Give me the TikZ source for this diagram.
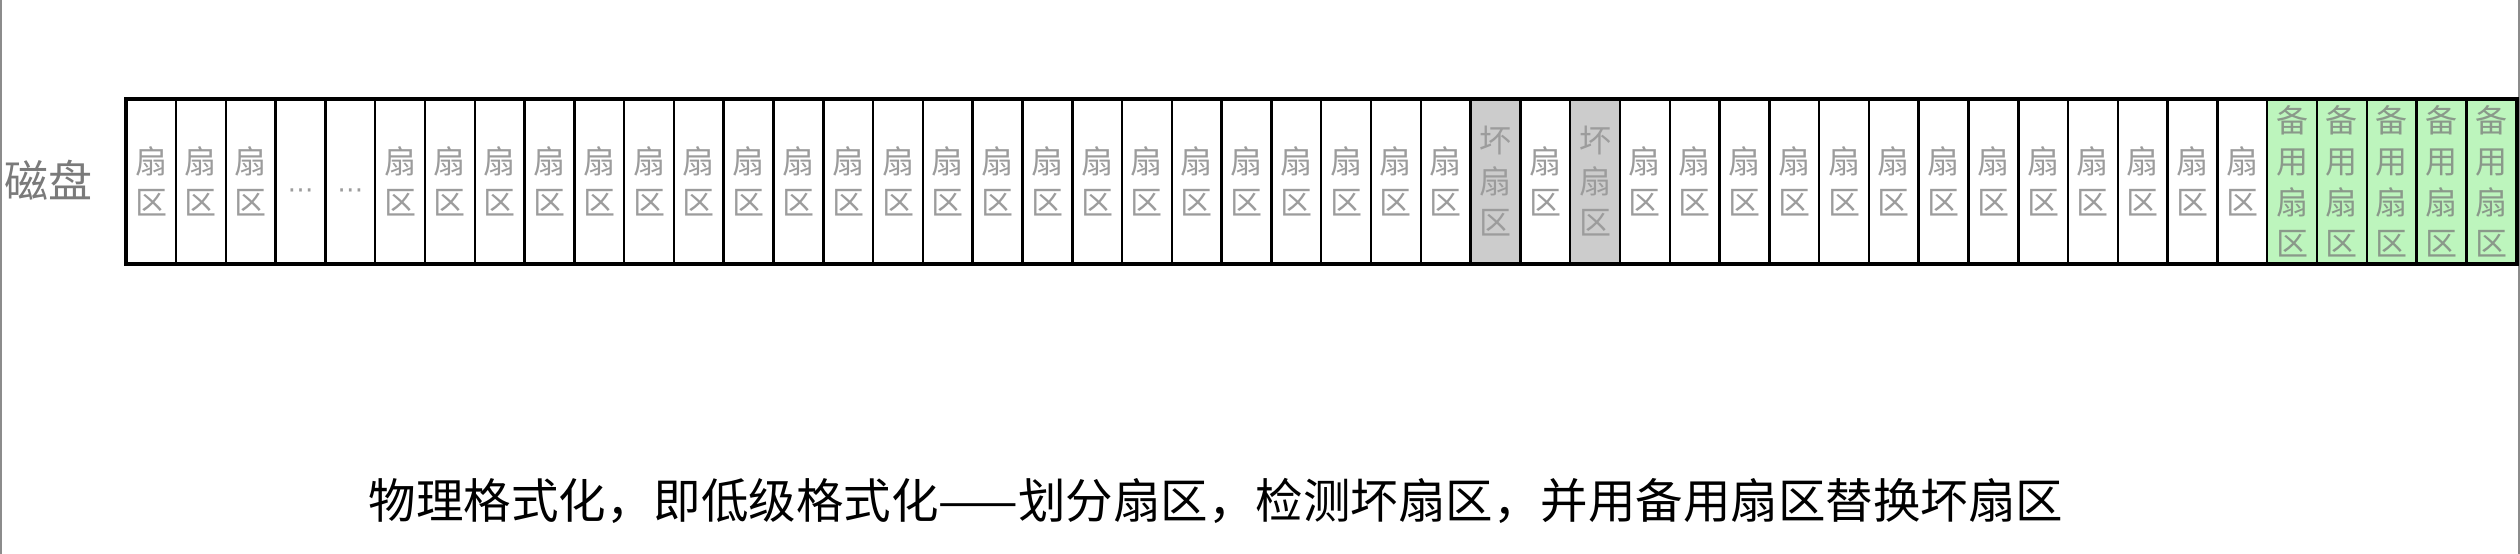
\documentclass[tikz,border=0pt]{standalone}
\usepackage{fontspec}
\newfontfamily\cjk{Noto Sans CJK SC}
\newfontfamily\djv{DejaVu Sans}
\definecolor{badfill}{HTML}{CCCCCC}
\definecolor{sparefill}{HTML}{BDF5BD}
\definecolor{celltext}{HTML}{9C9C9C}
\definecolor{sparetext}{HTML}{8A998A}
\definecolor{disktext}{HTML}{7A7A7A}
\definecolor{edgegray}{HTML}{8C8C8C}
\begin{document}
\begin{tikzpicture}[x=1pt,y=-1pt,
  cell/.style={draw=black, line width=2.5pt, minimum width=49.79pt, minimum height=164pt,
    inner sep=0pt, anchor=north west, align=center, text=celltext,
    font=\cjk\fontsize{32}{41}\selectfont},
  badcell/.style={cell, fill=badfill},
  sparecell/.style={cell, fill=sparefill, text=sparetext},
  dotcell/.style={cell, font=\djv\fontsize{26}{26}\selectfont, text=celltext},
  edge/.style={draw=edgegray, line width=2.5pt}]
\useasboundingbox (0,0) rectangle (2520,554);
\draw[edge] (1.2,0) -- (1.2,554);
\draw[edge] (2518.8,0) -- (2518.8,554);
\foreach \i in {0,1,2,5,6,...,26,28,30,31,...,42}
  \node[cell] (c\i) at ({125+\i*49.79},98) {扇\\区};
\foreach \i in {3,4}
  \node[dotcell] (c\i) at ({125+\i*49.79},98) {\raisebox{-17pt}[0pt][0pt]{⋯}};
\foreach \i in {27,29}
  \node[badcell] (c\i) at ({125+\i*49.79},98) {坏\\扇\\区};
\foreach \i in {43,...,47}
  \node[sparecell] (c\i) at ({125+\i*49.79},98) {备\\用\\扇\\区};
\draw[line width=3pt] (c0.north west) rectangle (c47.south east);
\draw[line width=4pt] (c47.north east) -- (c47.south east);
\node (disk) at (49,180) [font=\cjk\fontsize{44}{44}\selectfont, text=disktext, inner sep=0pt] {磁盘};
\node (caption) at (1216,501) [font=\cjk\fontsize{47.5}{48}\selectfont, text=black, inner sep=0pt]
  {物理格式化，即低级格式化——划分扇区，检测坏扇区，并用备用扇区替换坏扇区};
\end{tikzpicture}
\end{document}
